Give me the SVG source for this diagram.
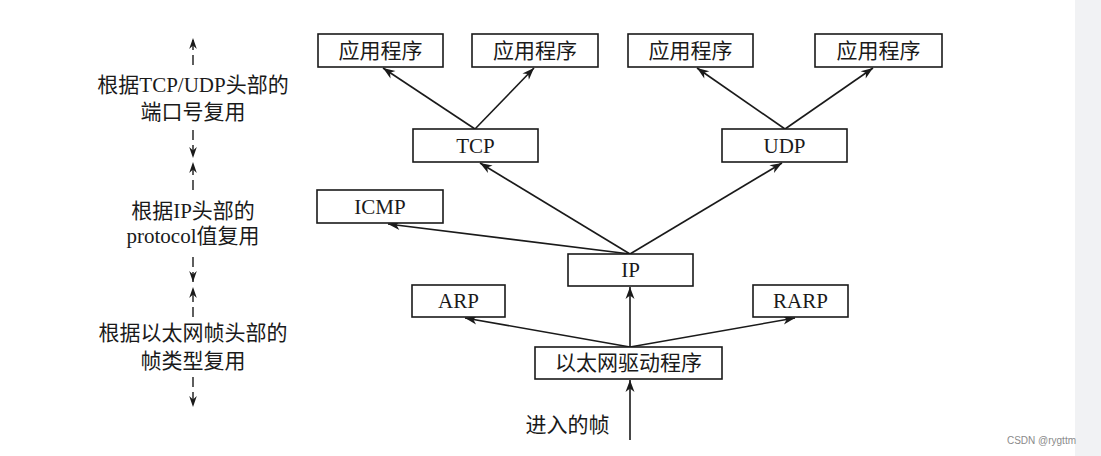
<svg xmlns="http://www.w3.org/2000/svg" width="1101" height="456" viewBox="0 0 1101 456">
<defs>
<marker id="ah" markerUnits="userSpaceOnUse" markerWidth="14" markerHeight="12" viewBox="-13 -6 14 12" refX="0" refY="0" orient="auto">
<path d="M0,0 L-12,-4.5 L-8.5,0 L-12,4.5 Z" fill="#1a1a1a"/>
</marker>
<marker id="sh" markerUnits="userSpaceOnUse" markerWidth="12" markerHeight="10" viewBox="-11 -5 12 10" refX="0" refY="0" orient="auto">
<path d="M0,0 L-11,-3.8 L-7.5,0 L-11,3.8 Z" fill="#1a1a1a"/>
</marker>
<style>
.box{fill:#fff;stroke:#1a1a1a;stroke-width:1.6}
.t{font-family:"Liberation Serif","Noto Sans CJK SC",serif;font-size:21px;fill:#1a1a1a;text-anchor:middle;dominant-baseline:central}
.c{stroke:#1a1a1a;stroke-width:1.6;fill:none;marker-end:url(#ah)}
.d{stroke:#1a1a1a;stroke-width:1.4;fill:none;stroke-dasharray:10 5;marker-end:url(#sh)}
</style>
</defs>
<rect x="0" y="0" width="1101" height="456" fill="#fff"/>
<rect x="1075" y="0" width="26" height="456" fill="#f1f2f4"/>

<g id="connectors">
<line class="c" x1="475" y1="129" x2="383" y2="68"/>
<line class="c" x1="475" y1="129" x2="534" y2="68"/>
<line class="c" x1="785" y1="129" x2="697" y2="68"/>
<line class="c" x1="785" y1="129" x2="873" y2="68"/>
<line class="c" x1="630" y1="254" x2="480" y2="163"/>
<line class="c" x1="630" y1="254" x2="782" y2="163"/>
<line class="c" x1="630" y1="254" x2="388" y2="224"/>
<line class="c" x1="630" y1="347" x2="465" y2="318"/>
<line class="c" x1="630" y1="347" x2="795" y2="318"/>
<line class="c" x1="630" y1="347" x2="630" y2="287"/>
<line class="c" x1="630" y1="440" x2="630" y2="380"/>
</g>

<g id="layer-guide">
<line class="d" x1="193" y1="65" x2="193" y2="38"/>
<line class="d" x1="193" y1="130" x2="193" y2="158"/>
<line class="d" x1="193" y1="190" x2="193" y2="162"/>
<line class="d" x1="193" y1="257" x2="193" y2="282"/>
<line class="d" x1="193" y1="317" x2="193" y2="287"/>
<line class="d" x1="193" y1="377" x2="193" y2="407"/>
<text class="t" x="193" y="85">根据TCP/UDP头部的</text>
<text class="t" x="193" y="112">端口号复用</text>
<text class="t" x="193" y="211">根据IP头部的</text>
<text class="t" x="193" y="236">protocol值复用</text>
<text class="t" x="193" y="333">根据以太网帧头部的</text>
<text class="t" x="193" y="361">帧类型复用</text>
</g>

<g id="app1"><rect class="box" x="318" y="34" width="125" height="33"/><text class="t" x="380.5" y="51">应用程序</text></g>
<g id="app2"><rect class="box" x="472" y="34" width="126" height="33"/><text class="t" x="535" y="51">应用程序</text></g>
<g id="app3"><rect class="box" x="628" y="34" width="125" height="33"/><text class="t" x="690.5" y="51">应用程序</text></g>
<g id="app4"><rect class="box" x="815" y="34" width="127" height="33"/><text class="t" x="878.5" y="51">应用程序</text></g>
<g id="tcp"><rect class="box" x="413" y="129" width="125" height="33"/><text class="t" x="475.5" y="145.5">TCP</text></g>
<g id="udp"><rect class="box" x="722" y="129" width="125" height="33"/><text class="t" x="784.5" y="145.5">UDP</text></g>
<g id="icmp"><rect class="box" x="317" y="190" width="126" height="33"/><text class="t" x="380" y="206.5">ICMP</text></g>
<g id="ip"><rect class="box" x="568" y="254" width="125" height="32"/><text class="t" x="630.5" y="270">IP</text></g>
<g id="arp"><rect class="box" x="412" y="285" width="93" height="32"/><text class="t" x="458.5" y="301">ARP</text></g>
<g id="rarp"><rect class="box" x="753" y="285" width="95" height="32"/><text class="t" x="800.5" y="301">RARP</text></g>
<g id="ethernet"><rect class="box" x="535" y="347" width="187" height="32"/><text class="t" x="628.5" y="363">以太网驱动程序</text></g>
<g id="incoming"><text class="t" x="567.5" y="425">进入的帧</text></g>

<text x="1076" y="440" font-family="Liberation Sans, Arial, sans-serif" font-size="10" fill="#8a8a8a" text-anchor="end" dominant-baseline="central">CSDN @rygttm</text>
</svg>
